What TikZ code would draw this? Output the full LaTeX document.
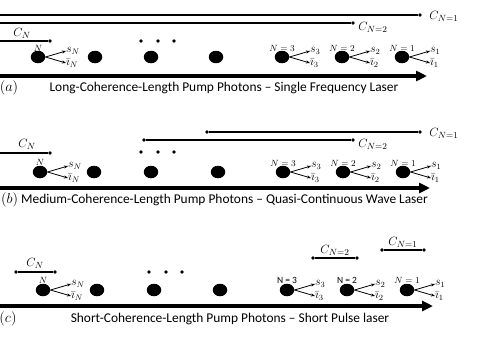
\documentclass[tikz,border=0pt]{standalone}
\usepackage{fontspec}
\setmainfont{Carlito}
\usetikzlibrary{arrows.meta,shapes.geometric}
\begin{document}
\begin{tikzpicture}[x=1pt,y=-1pt,
  bigdot/.style={ellipse,fill=black,inner sep=0pt,minimum width=14.5pt,minimum height=12.5pt},
  smalldot/.style={circle,fill=black,inner sep=0pt,minimum size=3.6pt},
  cline/.style={line width=1.4pt},
  axis/.style={line width=3.2pt,-{Triangle[length=11pt,width=10pt]}},
  emit/.style={line width=0.8pt,-{Stealth[length=4pt,width=3pt]}},
  clab/.style={inner sep=0pt,font=\fontsize{13}{14}\selectfont},
  slab/.style={inner sep=0pt,font=\fontsize{12}{13}\selectfont},
  nlab/.style={inner sep=0pt,font=\fontsize{9.5}{10}\selectfont},
  captext/.style={inner sep=0pt,font=\fontsize{13.4}{15}\selectfont},
]
\useasboundingbox (0,0) rectangle (485,346);

% ---------------- panel (a)
\coordinate (a1L) at (0,15);
\node[smalldot] (a1R) at (420,15) {};
\draw[cline] (a1L) -- (a1R);
\node[clab] (a1C) at (444,16) {$C_{N=1}$};
\coordinate (a2L) at (0,23);
\node[smalldot] (a2R) at (353,23) {};
\draw[cline] (a2L) -- (a2R);
\node[clab] (a2C) at (373,27) {$C_{N=2}$};
\coordinate (aNL) at (0,41);
\node[smalldot] (aNR) at (50,41) {};
\draw[cline] (aNL) -- (aNR);
\node[clab] (aNC) at (22,33) {$C_N$};
\node[smalldot] (ae1) at (141,41) {};
\node[smalldot] (ae2) at (158,41) {};
\node[smalldot] (ae3) at (174,41) {};
\foreach \x/\n in {38/N,95/b,151/c,216/d,282/3,342/2,402/1}{
  \node[bigdot] (ad\n) at (\x,57) {};
}
\node[nlab] (aNl) at (38,48) {$N$};
\node[nlab] (a3l) at (282,48) {$N=3$};
\node[nlab] (a2l) at (342,48) {$N=2$};
\node[nlab] (a1l) at (402,48) {$N=1$};
\foreach \n/\x/\s in {N/38/N,3/282/3,2/342/2,1/402/1}{
  \node[slab,anchor=west] (as\n) at (\x+28,51) {$s_{\s}$};
  \node[slab,anchor=west] (ai\n) at (\x+28,63) {$\bar{\imath}_{\s}$};
  \draw[emit] (ad\n.east) -- (as\n.west);
  \draw[emit] (ad\n.east) -- (ai\n.west);
}
\coordinate (aAL) at (0,76);
\coordinate (aAR) at (427,76);
\draw[axis] (aAL) -- (aAR);
\node[captext] (aLab) at (9,88) {$(a)$};
\node[captext] (aCap) at (224,88) {Long-Coherence-Length Pump Photons -- Single Frequency Laser};

% ---------------- panel (b)
\node[smalldot] (b1L) at (207,132) {};
\node[smalldot] (b1R) at (420,132) {};
\draw[cline] (b1L) -- (b1R);
\node[clab] (b1C) at (444,133) {$C_{N=1}$};
\node[smalldot] (b2L) at (144,140) {};
\node[smalldot] (b2R) at (353,140) {};
\draw[cline] (b2L) -- (b2R);
\node[clab] (b2C) at (373,144) {$C_{N=2}$};
\coordinate (bNL) at (0,153);
\node[smalldot] (bNR) at (50,153) {};
\draw[cline] (bNL) -- (bNR);
\node[clab] (bNC) at (27,144) {$C_N$};
\node[smalldot] (be1) at (141,152) {};
\node[smalldot] (be2) at (158,152) {};
\node[smalldot] (be3) at (174,152) {};
\foreach \x/\n in {40/N,94/b,151/c,218/d,283/3,343/2,403/1}{
  \node[bigdot] (bd\n) at (\x,172) {};
}
\node[nlab] (bNl) at (40,162) {$N$};
\node[nlab] (b3l) at (283,163) {$N=3$};
\node[nlab] (b2l) at (343,163) {$N=2$};
\node[nlab] (b1l) at (403,163) {$N=1$};
\foreach \n/\x/\s in {N/40/N,3/283/3,2/343/2,1/403/1}{
  \node[slab,anchor=west] (bs\n) at (\x+28,166) {$s_{\s}$};
  \node[slab,anchor=west] (bi\n) at (\x+28,178) {$\bar{\imath}_{\s}$};
  \draw[emit] (bd\n.east) -- (bs\n.west);
  \draw[emit] (bd\n.east) -- (bi\n.west);
}
\coordinate (bAL) at (0,188);
\coordinate (bAR) at (430,188);
\draw[axis] (bAL) -- (bAR);
\node[captext,anchor=west] (bCap) at (1,200) {$(b)$ Medium-Coherence-Length Pump Photons -- Quasi-Continuous Wave Laser};

% ---------------- panel (c)
\node[smalldot] (cNL) at (16,272) {};
\node[smalldot] (cNR) at (55,272) {};
\draw[cline] (cNL) -- (cNR);
\node[clab] (cNC) at (35,263) {$C_N$};
\node[smalldot] (c2L) at (313,258) {};
\node[smalldot] (c2R) at (357,258) {};
\draw[cline] (c2L) -- (c2R);
\node[clab] (c2C) at (335,250) {$C_{N=2}$};
\node[smalldot] (c1L) at (382,250) {};
\node[smalldot] (c1R) at (424,250) {};
\draw[cline] (c1L) -- (c1R);
\node[clab] (c1C) at (403,242) {$C_{N=1}$};
\node[smalldot] (ce1) at (149,272) {};
\node[smalldot] (ce2) at (166,272) {};
\node[smalldot] (ce3) at (182,272) {};
\foreach \x/\n in {43/N,97/b,154/c,220/d,287/3,347/2,407/1}{
  \node[bigdot] (cd\n) at (\x,290) {};
}
\node[nlab] (cNl) at (43,280) {$N$};
\node[nlab] (c3l) at (287,280) {N = 3};
\node[nlab] (c2l) at (347,280) {N = 2};
\node[nlab] (c1l) at (407,280) {$N=1$};
\foreach \n/\x/\s in {N/43/N,3/287/3,2/347/2,1/407/1}{
  \node[slab,anchor=west] (cs\n) at (\x+28,284) {$s_{\s}$};
  \node[slab,anchor=west] (ci\n) at (\x+28,296) {$\bar{\imath}_{\s}$};
  \draw[emit] (cd\n.east) -- (cs\n.west);
  \draw[emit] (cd\n.east) -- (ci\n.west);
}
\coordinate (cAL) at (0,306);
\coordinate (cAR) at (433,306);
\draw[axis] (cAL) -- (cAR);
\node[captext] (cLab) at (8,319) {$(c)$};
\node[captext] (cCap) at (230,319) {Short-Coherence-Length Pump Photons -- Short Pulse laser};
\end{tikzpicture}
\end{document}
